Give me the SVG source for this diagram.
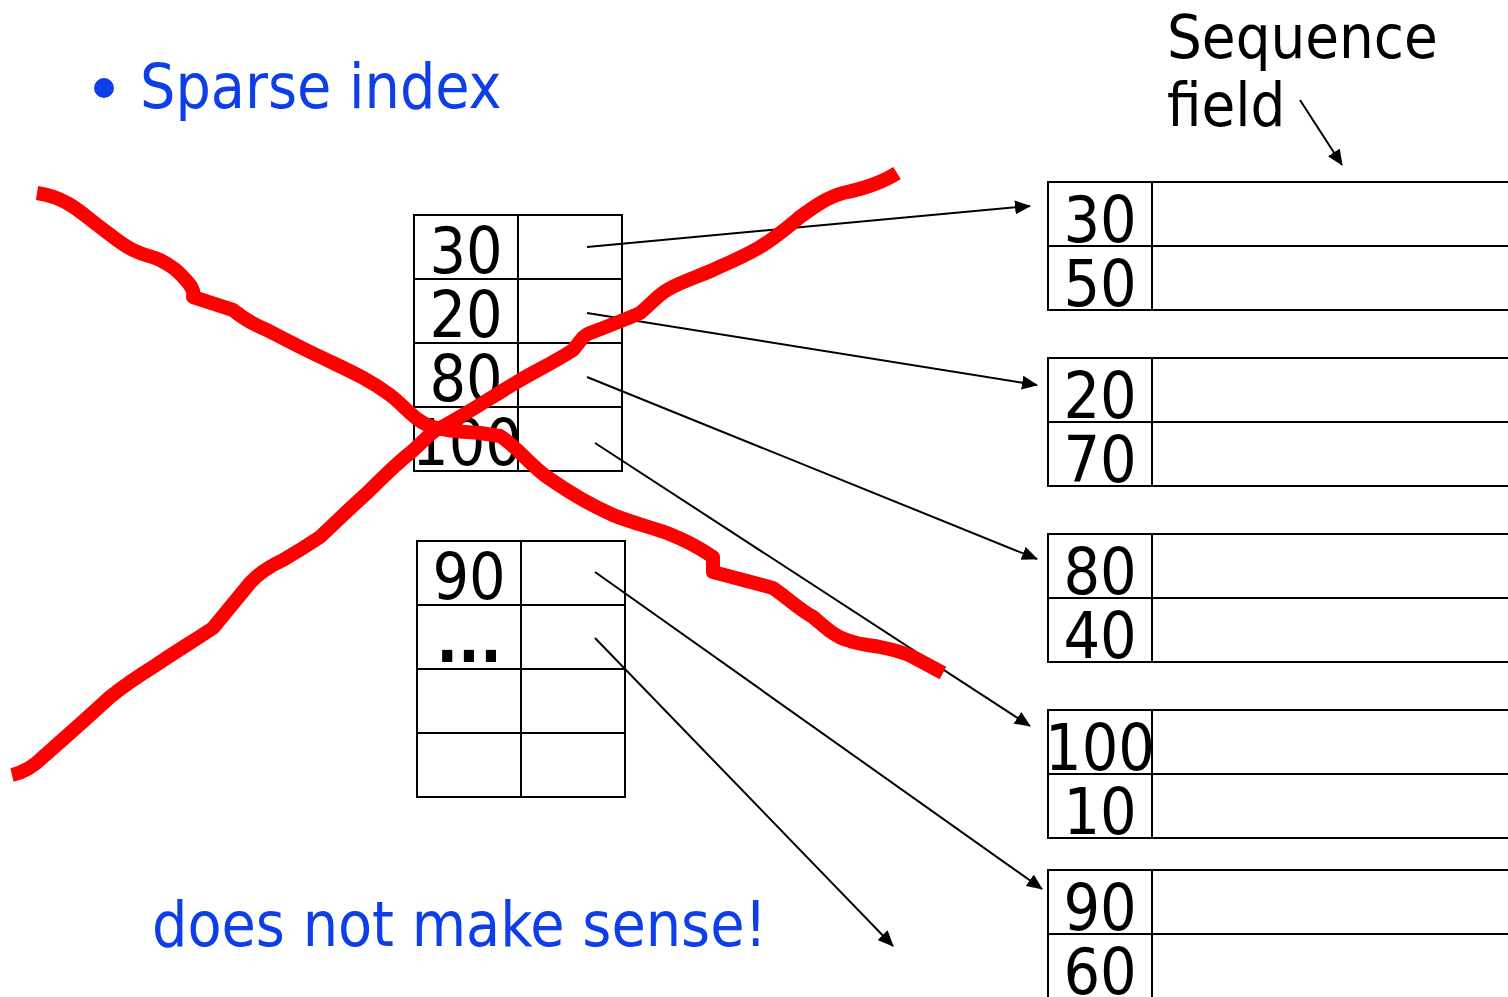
<svg xmlns="http://www.w3.org/2000/svg" width="1508" height="997" viewBox="0 0 1508 997">
<style>
.cell{fill:#fff;stroke:#000;stroke-width:2}
.num{font-family:"DejaVu Sans Condensed","DejaVu Sans",sans-serif;font-stretch:condensed;font-size:64px;fill:#000;text-anchor:middle}
.lbl{font-family:"DejaVu Sans Condensed","DejaVu Sans",sans-serif;font-stretch:condensed;font-size:61px;fill:#000}
.blue{font-family:"DejaVu Sans Condensed","DejaVu Sans",sans-serif;font-stretch:condensed;font-size:62px;fill:#0d3ee8}
.conn{stroke:#000;stroke-width:2;fill:none;marker-end:url(#ah)}
.red{stroke:#ff0000;stroke-width:14;fill:none;stroke-linejoin:round;stroke-linecap:butt}
</style>
<defs>
<marker id="ah" viewBox="0 0 16 14" refX="15" refY="7" markerWidth="16" markerHeight="14" markerUnits="userSpaceOnUse" orient="auto">
<path d="M0,0 L16,7 L0,14 Z" fill="#000"/>
</marker>
</defs>
<rect width="1508" height="997" fill="#fff"/>

<g id="title">
<circle cx="104" cy="88" r="10" fill="#0d3ee8"/>
<text class="blue" x="140" y="108">Sparse index</text>
</g>

<g id="seqlabel">
<text class="lbl" x="1167" y="58">Sequence</text>
<text class="lbl" x="1167" y="126">field</text>
</g>

<g id="index1">
<rect class="cell" x="414" y="215" width="104" height="64"/><rect class="cell" x="518" y="215" width="104" height="64"/>
<rect class="cell" x="414" y="279" width="104" height="64"/><rect class="cell" x="518" y="279" width="104" height="64"/>
<rect class="cell" x="414" y="343" width="104" height="64"/><rect class="cell" x="518" y="343" width="104" height="64"/>
<rect class="cell" x="414" y="407" width="104" height="64"/><rect class="cell" x="518" y="407" width="104" height="64"/>
<text class="num" x="466" y="273">30</text>
<text class="num" x="466" y="337">20</text>
<text class="num" x="466" y="401">80</text>
<text class="num" x="467" y="465">100</text>
</g>

<g id="index2">
<rect class="cell" x="417" y="541" width="104" height="64"/><rect class="cell" x="521" y="541" width="104" height="64"/>
<rect class="cell" x="417" y="605" width="104" height="64"/><rect class="cell" x="521" y="605" width="104" height="64"/>
<rect class="cell" x="417" y="669" width="104" height="64"/><rect class="cell" x="521" y="669" width="104" height="64"/>
<rect class="cell" x="417" y="733" width="104" height="64"/><rect class="cell" x="521" y="733" width="104" height="64"/>
<text class="num" x="469" y="599">90</text>
<text class="num" x="469" y="662" font-weight="bold">...</text>
</g>

<g id="block1">
<rect class="cell" x="1048" y="182" width="104" height="64"/><rect class="cell" x="1152" y="182" width="370" height="64"/>
<rect class="cell" x="1048" y="246" width="104" height="64"/><rect class="cell" x="1152" y="246" width="370" height="64"/>
<text class="num" x="1100" y="242">30</text><text class="num" x="1100" y="306">50</text>
</g>
<g id="block2">
<rect class="cell" x="1048" y="358" width="104" height="64"/><rect class="cell" x="1152" y="358" width="370" height="64"/>
<rect class="cell" x="1048" y="422" width="104" height="64"/><rect class="cell" x="1152" y="422" width="370" height="64"/>
<text class="num" x="1100" y="418">20</text><text class="num" x="1100" y="482">70</text>
</g>
<g id="block3">
<rect class="cell" x="1048" y="534" width="104" height="64"/><rect class="cell" x="1152" y="534" width="370" height="64"/>
<rect class="cell" x="1048" y="598" width="104" height="64"/><rect class="cell" x="1152" y="598" width="370" height="64"/>
<text class="num" x="1100" y="594">80</text><text class="num" x="1100" y="658">40</text>
</g>
<g id="block4">
<rect class="cell" x="1048" y="710" width="104" height="64"/><rect class="cell" x="1152" y="710" width="370" height="64"/>
<rect class="cell" x="1048" y="774" width="104" height="64"/><rect class="cell" x="1152" y="774" width="370" height="64"/>
<text class="num" x="1100" y="770">100</text><text class="num" x="1100" y="834">10</text>
</g>
<g id="block5">
<rect class="cell" x="1048" y="870" width="104" height="64"/><rect class="cell" x="1152" y="870" width="370" height="64"/>
<rect class="cell" x="1048" y="934" width="104" height="64"/><rect class="cell" x="1152" y="934" width="370" height="64"/>
<text class="num" x="1100" y="930">90</text><text class="num" x="1100" y="994">60</text>
</g>

<g id="connectors">
<line class="conn" x1="1300" y1="100" x2="1342" y2="165"/>
<line class="conn" x1="587" y1="247" x2="1030" y2="206"/>
<line class="conn" x1="587" y1="313" x2="1037" y2="385"/>
<line class="conn" x1="587" y1="377" x2="1037" y2="559"/>
<line class="conn" x1="595" y1="443" x2="1030" y2="726"/>
<line class="conn" x1="595" y1="572" x2="1042" y2="889"/>
<line class="conn" x1="595" y1="638" x2="893" y2="946"/>
</g>

<g id="redcross">
<path class="red" d="M37,193 C50,195 60,199 67,203 C80,210 90,220 100,227 C112,236 122,245 133,250 C145,256 152,256 160,260 C170,265 178,271 183,277 C190,284 195,290 193,297 L233,310 C245,320 255,325 267,330 C290,342 305,350 327,360 C350,371 370,380 390,395 C405,406 415,422 433,427 C450,432 470,432 480,433 L500,436 C515,445 530,465 547,477 C570,493 590,505 613,515 C630,522 650,527 667,533 C685,540 700,548 713,557 L713,572 L773,588 C790,600 800,610 813,617 C825,627 835,637 847,640 C860,645 870,645 880,647 C895,650 905,653 913,657 L943,673"/>
<path class="red" d="M12,775 C25,772 35,765 43,757 C60,742 85,720 110,697 C125,685 140,675 153,667 C175,652 195,640 213,628 L250,583 C260,572 270,566 283,560 C295,553 305,547 320,537 C335,523 350,508 367,493 C380,480 395,465 410,453 C420,445 430,432 440,428 C465,415 490,398 517,382 C535,371 555,362 573,350 C580,342 583,335 590,333 C605,327 625,320 640,313 C650,305 657,296 667,290 C680,282 697,277 713,270 C728,263 745,256 760,247 C775,238 788,227 800,217 C815,206 828,197 843,193 C862,189 880,184 897,173"/>
</g>

<g id="footer">
<text class="blue" x="152" y="946">does not make sense!</text>
</g>
</svg>
